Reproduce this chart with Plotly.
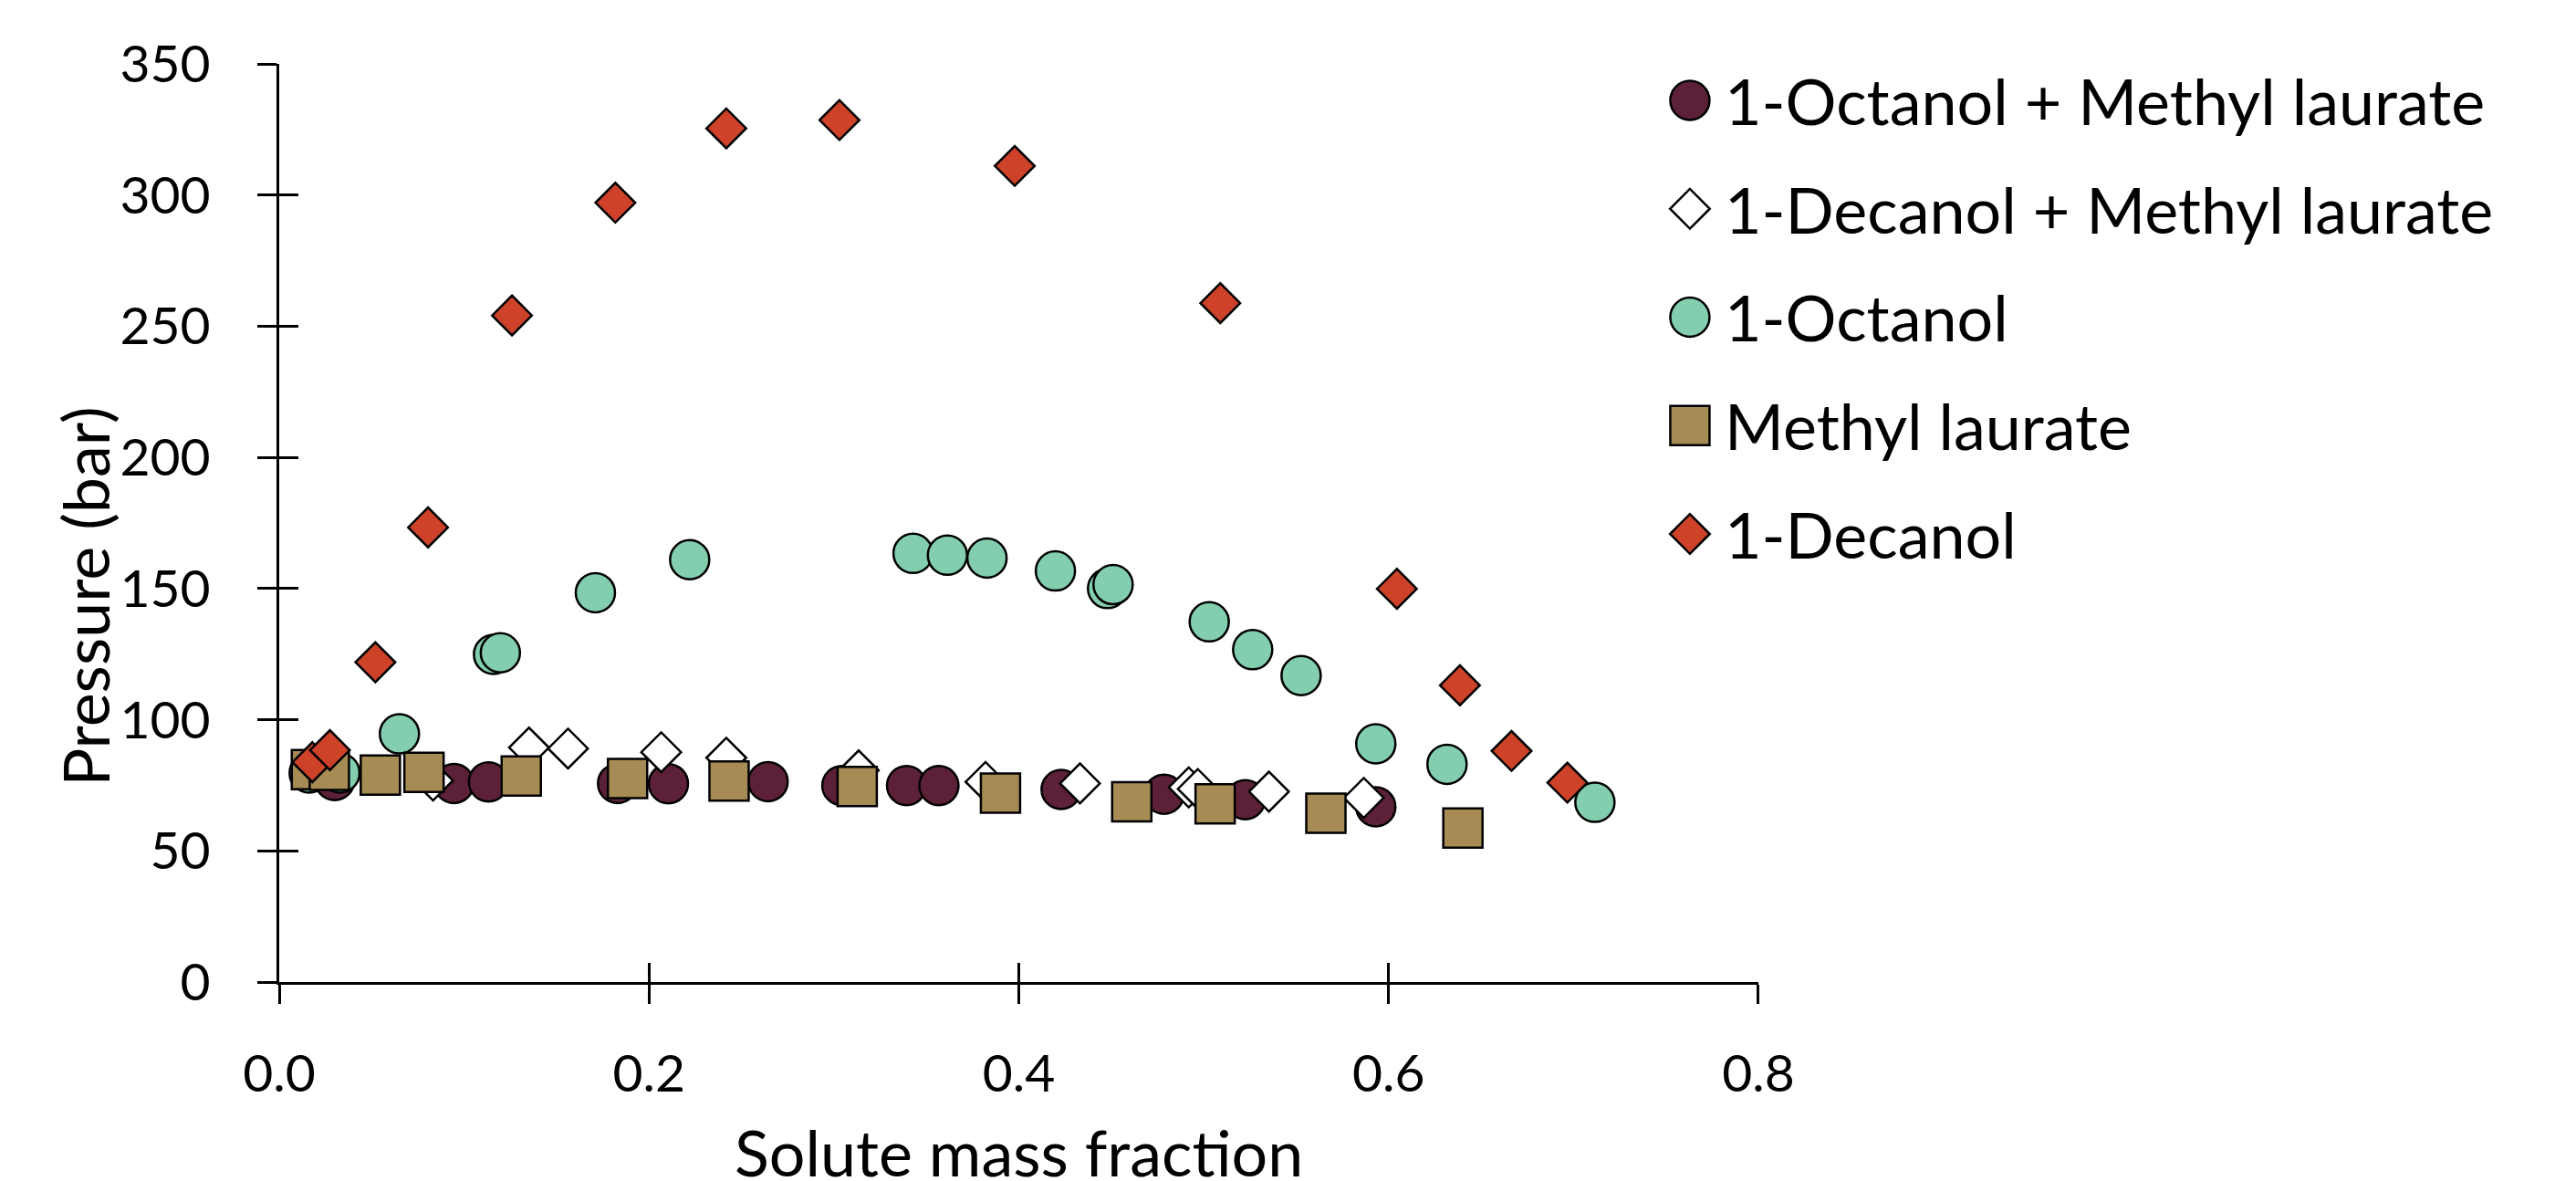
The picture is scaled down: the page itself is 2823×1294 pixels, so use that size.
import plotly.graph_objects as go

# ---------------- data ----------------
series_names = [
    "1-Octanol + Methyl laurate",
    "1-Decanol + Methyl laurate",
    "1-Octanol",
    "Methyl laurate",
    "1-Decanol",
]

oct_ml_x = [0.030, 0.0945, 0.1132, 0.1830, 0.2105, 0.2644, 0.3043, 0.3393, 0.3568,
            0.4229, 0.4786, 0.5225, 0.5931]
oct_ml_y = [76.8, 75.7, 76.3, 75.7, 75.6, 76.4, 74.9, 74.9, 74.9,
            73.4, 71.6, 69.5, 66.8]

dec_ml_x = [0.0832, 0.1351, 0.1562, 0.2066, 0.2418, 0.3134, 0.3820, 0.4331,
            0.4919, 0.4968, 0.5353, 0.5866]
dec_ml_y = [76.8, 89.4, 89.0, 87.6, 85.5, 80.7, 76.3, 75.7,
            74.2, 73.6, 72.6, 70.2]

oct_x = [0.0162, 0.0328, 0.0650, 0.1159, 0.1196, 0.171, 0.222, 0.3428, 0.3614,
         0.3828, 0.4198, 0.448, 0.451, 0.5030, 0.5265, 0.5527, 0.5931, 0.6316, 0.7116]
oct_y = [79.7, 79.7, 94.6, 124.9, 125.5, 148.4, 161.0, 163.4, 162.7,
         161.6, 156.7, 150.0, 151.5, 137.3, 126.7, 116.8, 90.8, 83.0, 68.5]

ml_x = [0.0174, 0.0271, 0.0547, 0.0783, 0.1309, 0.1884, 0.2433, 0.3126, 0.3901,
        0.4611, 0.5062, 0.5661, 0.6402]
ml_y = [81.0, 80.7, 78.9, 79.9, 78.5, 77.6, 76.6, 74.5, 72.0,
        68.7, 67.9, 64.4, 58.7]

dec_x = [0.0179, 0.0274, 0.052, 0.0805, 0.1259, 0.1818, 0.2418, 0.3030, 0.3978,
         0.509, 0.6045, 0.6386, 0.6665, 0.6967]
dec_y = [83.8, 88.4, 121.9, 173.3, 254.1, 297.1, 325.4, 328.6, 311.1,
         258.8, 149.9, 113.1, 88.1, 76.0]

x_tickvals = [0.0, 0.2, 0.4, 0.6, 0.8]
x_ticktext = ["0.0", "0.2", "0.4", "0.6", "0.8"]
y_tickvals = [0, 50, 100, 150, 200, 250, 300, 350]

# ---------------- styles ----------------
FONT = "Lato"
colors = ["#5C2139", "#FFFFFF", "#82CEAF", "#A78B54", "#CD4229"]
symbols = ["circle", "diamond", "circle", "square", "diamond"]
sizes = [43, 33.5, 43, 43, 33.5]
xs = [oct_ml_x, dec_ml_x, oct_x, ml_x, dec_x]
ys = [oct_ml_y, dec_ml_y, oct_y, ml_y, dec_y]

fig = go.Figure()
for name, x, y, c, s, sz in zip(series_names, xs, ys, colors, symbols, sizes):
    fig.add_trace(go.Scatter(
        x=x, y=y, mode="markers", name=name, showlegend=False, cliponaxis=False,
        marker=dict(symbol=s, size=sz, color=c, line=dict(color="black", width=2.5)),
    ))

# custom legend (large markers) on a helper axis pair
for i, (name, c, s, sz) in enumerate(zip(series_names, colors, symbols, sizes)):
    fig.add_trace(go.Scatter(
        x=[0], y=[i], mode="markers", xaxis="x2", yaxis="y2", showlegend=False,
        cliponaxis=False, hoverinfo="skip",
        marker=dict(symbol=s, size=sz, color=c, line=dict(color="black", width=2.5)),
    ))
    fig.add_annotation(
        x=0, y=i, xref="x2", yref="y2", text=name, showarrow=False,
        xanchor="left", yanchor="middle", xshift=36,
        font=dict(family=FONT, size=70, color="black"),
    )

# helper trace for the overlay axes giving the inward half of the crossing ticks
fig.add_trace(go.Scatter(x=[], y=[], xaxis="x3", yaxis="y3", showlegend=False))

W, H = 2823, 1294
ml, mr, mt, mb = 306, 20, 70, 218
pw = W - ml - mr
ph = H - mt - mb
xdom_end = (1948 - ml) / pw

axis_common = dict(showgrid=False, zeroline=False, linecolor="black", linewidth=3,
                   ticks="outside", ticklen=21, tickwidth=3, tickcolor="black",
                   tickfont=dict(family=FONT, size=57, color="black"))

fig.update_layout(
    width=W, height=H,
    margin=dict(l=ml, r=mr, t=mt, b=mb, pad=0),
    paper_bgcolor="white", plot_bgcolor="white",
    font=dict(family=FONT, color="black"),
    xaxis=dict(domain=[0, xdom_end], range=[0, 0.8], tickvals=x_tickvals,
               ticktext=x_ticktext, showline=True, anchor="y",
               ticklabelstandoff=28, **axis_common),
    yaxis=dict(domain=[0, 1], range=[0, 350], tickvals=y_tickvals,
               showline=True, anchor="x", ticklabelstandoff=40, **axis_common),
    xaxis3=dict(domain=[0, xdom_end], range=[0, 0.8], tickvals=x_tickvals,
                overlaying="x", anchor="y3", showline=False, showgrid=False,
                zeroline=False, ticks="inside", ticklen=21, tickwidth=3,
                tickcolor="black", showticklabels=False),
    yaxis3=dict(domain=[0, 1], range=[0, 350], tickvals=y_tickvals,
                overlaying="y", anchor="x3", showline=False, showgrid=False,
                zeroline=False, ticks="inside", ticklen=21, tickwidth=3,
                tickcolor="black", showticklabels=False),
    xaxis2=dict(domain=[(1872 - ml) / pw, 1.0], range=[0, 1], visible=False,
                anchor="y2"),
    yaxis2=dict(domain=[(1076 - 585) / ph, (1076 - 110) / ph], range=[4, 0],
                visible=False, anchor="x2"),
)

# axis titles
fig.add_annotation(text="Pressure (bar)", xref="paper", yref="paper",
                   x=(90 - ml) / pw, y=(1076 - 654) / ph, textangle=-90,
                   showarrow=False, xanchor="center", yanchor="middle",
                   font=dict(family=FONT, size=70, color="black"))
fig.add_annotation(text="Solute mass fraction", xref="paper", yref="paper",
                   x=(1127 - ml) / pw, y=(1076 - 1262) / ph,
                   showarrow=False, xanchor="center", yanchor="middle",
                   font=dict(family=FONT, size=70, color="black"))

fig.write_html("out.html")
